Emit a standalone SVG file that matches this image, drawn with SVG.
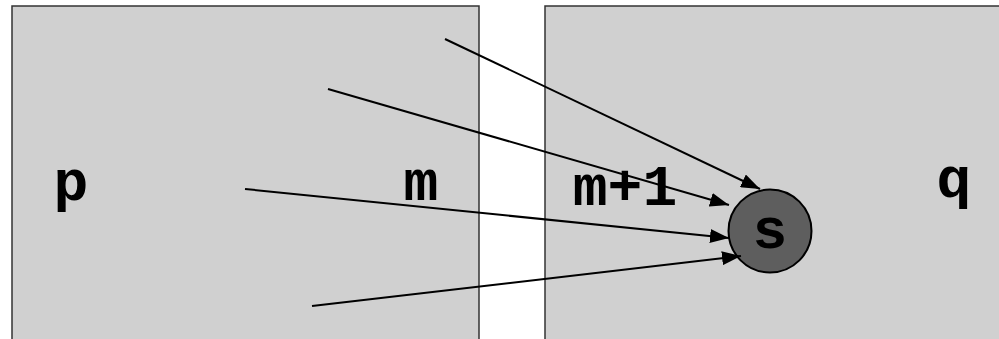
<svg xmlns="http://www.w3.org/2000/svg" width="999" height="339" viewBox="0 0 999 339">
<style>
.box{fill:#d0d0d0;stroke:#333;stroke-width:1.5}
.lbl{font-family:"Courier New","Liberation Mono",monospace;font-weight:bold;font-size:58px;fill:#000}
.con{stroke:#000;stroke-width:2;fill:none;marker-end:url(#ah)}
</style>
<defs>
<marker id="ah" viewBox="0 0 10 10" refX="10" refY="5" markerWidth="19" markerHeight="14" markerUnits="userSpaceOnUse" orient="auto" preserveAspectRatio="none">
<path d="M0,0 L10,5 L0,10 z" fill="#000"/>
</marker>
</defs>
<rect width="999" height="339" fill="#fff"/>
<g id="left-block">
<rect class="box" x="12" y="6" width="467" height="340"/>
<text class="lbl" x="71" y="200" text-anchor="middle">p</text>
<text class="lbl" x="421" y="200" text-anchor="middle">m</text>
</g>
<g id="right-block">
<rect class="box" x="545" y="6" width="470" height="340"/>
<text class="lbl" x="625" y="205" text-anchor="middle">m+1</text>
<text class="lbl" x="954" y="197" text-anchor="middle">q</text>
</g>
<g id="s-node">
<circle cx="770" cy="231" r="41.5" fill="#5e5e5e" stroke="#000" stroke-width="2"/>
<text class="lbl" x="770" y="248" text-anchor="middle">s</text>
</g>
<g id="connectors">
<line class="con" x1="445" y1="39" x2="760" y2="189"/>
<line class="con" x1="328" y1="89" x2="729" y2="205"/>
<line class="con" x1="245" y1="189" x2="729" y2="238"/>
<line class="con" x1="312" y1="306" x2="741" y2="256"/>
</g>
</svg>
